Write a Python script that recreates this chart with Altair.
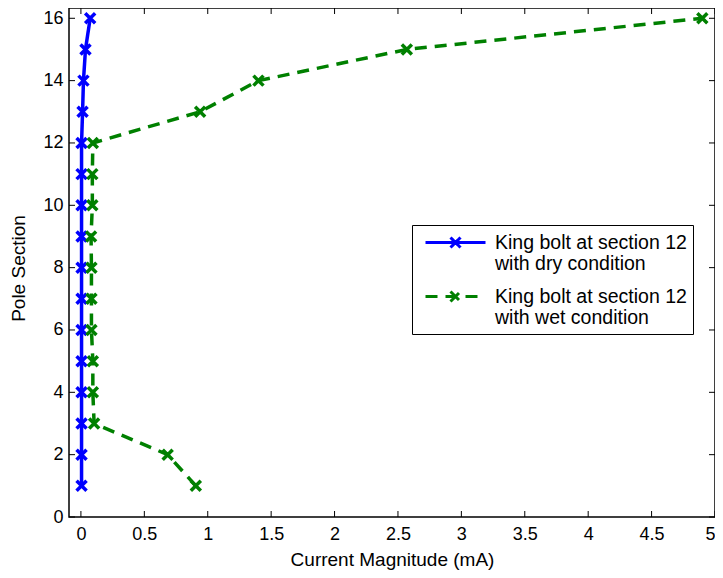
import altair as alt
import pandas as pd

# ---- data ----
sections = list(range(1, 17))
dry_current = [0.005, 0.005, 0.005, 0.005, 0.005, 0.005, 0.005, 0.005,
               0.005, 0.005, 0.005, 0.005, 0.013, 0.02, 0.036, 0.073]
wet_current = [0.906, 0.684, 0.104, 0.094, 0.094, 0.083, 0.083, 0.083,
               0.08, 0.09, 0.09, 0.094, 0.94, 1.40, 2.57, 4.90]
series_names = ["King bolt at section 12|with dry condition",
                "King bolt at section 12|with wet condition"]
series_colors = ["#0000FF", "#008000"]
x_ticks = [0, 0.5, 1, 1.5, 2, 2.5, 3, 3.5, 4, 4.5, 5]
y_ticks = [0, 2, 4, 6, 8, 10, 12, 14, 16]

W, H = 646, 509
FONT = "Liberation Sans"

rows = []
for s, d, w in zip(sections, dry_current, wet_current):
    rows.append({"section": s, "current": d, "series": series_names[0]})
    rows.append({"section": s, "current": w, "series": series_names[1]})
df = pd.DataFrame(rows)

xscale = alt.Scale(domain=[-0.094, 5], nice=False, zero=False)
yscale = alt.Scale(domain=[0, 16.33], nice=False, zero=False)

# symbol box is 20px; path drawn 3x wider horizontally
legend_symbol = "M-3,0H3M-0.5,-0.5L0.5,0.5M-0.5,0.5L0.5,-0.5"
leg = alt.Legend(
    title=None, orient="none", legendX=343, legendY=217,
    symbolType=legend_symbol, symbolSize=400, symbolStrokeWidth=3,
    symbolOffset=26, labelOffset=28,
    labelExpr="split(datum.label, '|')",
)
color = alt.Color("series:N", scale=alt.Scale(domain=series_names, range=series_colors), legend=leg)
dash = alt.StrokeDash("series:N", scale=alt.Scale(domain=series_names, range=[[1, 0], [12, 8]]), legend=leg)

xaxis = alt.Axis(values=x_ticks, format="~g", title="Current Magnitude (mA)",
                 grid=False, ticks=False, domain=False, labelPadding=8,
                 titleBaseline="alphabetic", titleY=48)
yaxis = alt.Axis(values=y_ticks, title="Pole Section", grid=False, ticks=False,
                 domain=False, labelPadding=6, titlePadding=14, titleY=260)

lines = alt.Chart(df).mark_line(strokeWidth=3.5).encode(
    x=alt.X("current:Q", scale=xscale, axis=xaxis),
    y=alt.Y("section:Q", scale=yscale, axis=yaxis),
    color=color,
    strokeDash=dash,
    order=alt.Order("section:Q"),
)

points = alt.Chart(df).mark_point(
    shape="M-1,-1L1,1M-1,1L1,-1", filled=False, strokeWidth=3.5, size=100, opacity=1
).encode(
    x=alt.X("current:Q", scale=xscale, axis=xaxis),
    y=alt.Y("section:Q", scale=yscale, axis=yaxis),
    color=alt.Color("series:N", scale=alt.Scale(domain=series_names, range=series_colors), legend=None),
)

xt = pd.DataFrame({"current": x_ticks})
yt = pd.DataFrame({"section": y_ticks})
tick_style = dict(color="black", strokeWidth=1)
xtick_bottom = alt.Chart(xt).mark_rule(**tick_style).encode(
    x=alt.X("current:Q", scale=xscale, axis=xaxis), y=alt.value(H), y2=alt.value(H - 6))
xtick_top = alt.Chart(xt).mark_rule(**tick_style).encode(
    x=alt.X("current:Q", scale=xscale, axis=xaxis), y=alt.value(0), y2=alt.value(6))
ytick_left = alt.Chart(yt).mark_rule(**tick_style).encode(
    y=alt.Y("section:Q", scale=yscale, axis=yaxis), x=alt.value(0), x2=alt.value(6))
ytick_right = alt.Chart(yt).mark_rule(**tick_style).encode(
    y=alt.Y("section:Q", scale=yscale, axis=yaxis), x=alt.value(W), x2=alt.value(W - 6))

chart = alt.layer(
    lines, points, xtick_bottom, xtick_top, ytick_left, ytick_right
).properties(
    width=W, height=H,
    autosize=alt.AutoSizeParams(type="none"),
    padding={"left": 61, "top": 0, "right": 0, "bottom": 53},
).configure_view(
    stroke="black", strokeWidth=1.5
).configure_axis(
    labelFont=FONT, titleFont=FONT, labelFontSize=18, titleFontSize=19,
    labelColor="black", titleColor="black", titleFontWeight="normal",
).configure_legend(
    labelFont=FONT, labelFontSize=19.5, labelColor="black", labelLimit=400,
    strokeColor="black", fillColor="white", padding=6, cornerRadius=0,
    rowPadding=11,
)

chart.save("out.html", embed_options={"renderer": "svg", "actions": False})
